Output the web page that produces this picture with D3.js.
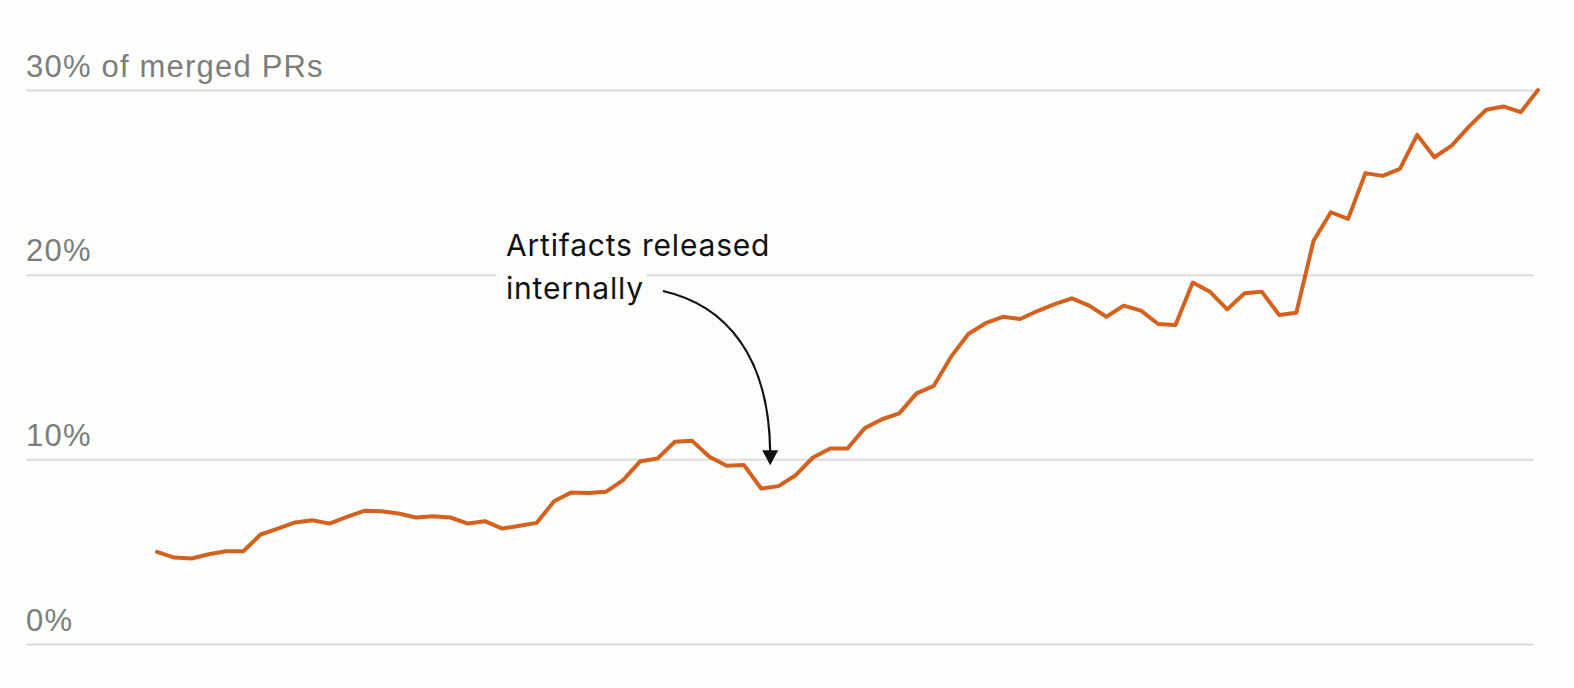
<!DOCTYPE html>
<html>
<head>
<meta charset="utf-8">
<script src="https://cdn.jsdelivr.net/npm/d3@7"></script>
<style>
  html, body { margin: 0; padding: 0; background: #fdfdfc; }
  svg { display: block; }
</style>
</head>
<body>
<div id="chart"></div>
<script>
// share of merged PRs (%), one value per period
const shareValues = [
  4.99, 4.68, 4.63, 4.86, 5.02, 5.02, 5.93, 6.25, 6.58, 6.70,
  6.52, 6.88, 7.21, 7.19, 7.07, 6.85, 6.92, 6.85, 6.52, 6.65,
  6.25, 6.40, 6.56, 7.73, 8.21, 8.18, 8.24, 8.87, 9.90, 10.05,
  10.95, 11.00, 10.14, 9.65, 9.69, 8.42, 8.55, 9.14, 10.10, 10.59,
  10.59, 11.69, 12.17, 12.49, 13.57, 13.98, 15.56, 16.79, 17.37, 17.72,
  17.60, 18.03, 18.40, 18.72, 18.32, 17.72, 18.32, 18.05, 17.33, 17.27,
  19.57, 19.07, 18.12, 18.99, 19.08, 17.82, 17.94, 21.84, 23.38, 23.02,
  25.50, 25.35, 25.73, 27.57, 26.36, 26.99, 28.02, 28.93, 29.11, 28.80,
  30.0
];

// y axis ticks and their labels
const tickValues = [0, 10, 20, 30];
const tickLabels = ['0%', '10%', '20%', '30% of merged PRs'];

// annotation text lines
const noteLines = ['Artifacts released', 'internally'];
// index of the period the arrow points at
const noteIndex = 35;

let width = 1574,
  height = 688;

let svg = d3.select('#chart')
  .append('svg')
  .attr('width', width)
  .attr('height', height)
  .style('background-color', '#fdfdfc');

// scales
let xScale = d3.scaleLinear()
  .domain([0, shareValues.length - 1])
  .range([157, 1538]);

let yScale = d3.scaleLinear()
  .domain([0, 30])
  .range([644, 90]);

// gridlines + tick labels via a right axis stretched across the chart
let gridLeft = 26,
  gridRight = 1534;

let yAxis = d3.axisRight(yScale)
  .tickValues(tickValues)
  .tickSize(gridRight - gridLeft)
  .tickFormat((d, i) => tickLabels[i]);

let axisGroup = svg.append('g')
  .attr('transform', `translate(${gridLeft}, 0)`)
  .call(yAxis);

axisGroup.select('.domain').remove();
axisGroup.selectAll('.tick line')
  .attr('stroke', '#dcdcdb')
  .attr('stroke-width', 2);
axisGroup.selectAll('.tick text')
  .attr('x', 0)
  .attr('y', -14)
  .attr('dy', 0)
  .attr('text-anchor', 'start')
  .attr('fill', '#7b7e7b')
  .style('font-family', '"Liberation Sans", Arial, sans-serif')
  .style('font-size', '31px')
  .style('letter-spacing', '1.2px');

// the line itself
let line = d3.line()
  .x((d, i) => xScale(i))
  .y(d => yScale(d));

svg.append('path')
  .datum(shareValues)
  .attr('fill', 'none')
  .attr('stroke', '#d4611e')
  .attr('stroke-width', 4)
  .attr('stroke-linejoin', 'round')
  .attr('stroke-linecap', 'round')
  .attr('d', line);

// annotation: text on white boxes, curved arrow down to the dip
let noteX = 506,
  noteY = 256,
  noteStep = 43;

let noteGroup = svg.append('g');

noteLines.forEach((t, i) => {
  let box = noteGroup.append('rect')
    .attr('fill', '#fdfdfc');
  let txt = noteGroup.append('text')
    .attr('x', noteX)
    .attr('y', noteY + i * noteStep)
    .attr('fill', '#111')
    .style('font-family', 'Inter, "Noto Sans", sans-serif')
    .style('font-size', '30px')
    .style('letter-spacing', '0.8px')
    .text(t);
  let w = txt.node().getComputedTextLength();
  box.attr('x', noteX - 10)
    .attr('y', noteY + i * noteStep - 30)
    .attr('width', w + 13)
    .attr('height', noteStep);
  txt.raise();
});

// arrow end point sits just above the dip
let tipX = xScale(noteIndex) + 9,
  tipY = yScale(10) + 6;

svg.append('path')
  .attr('fill', 'none')
  .attr('stroke', '#111')
  .attr('stroke-width', 2.2)
  .attr('d', `M663,291 C725,305 ${tipX - 1},355 ${tipX},${tipY - 13}`);

svg.append('path')
  .attr('fill', '#111')
  .attr('d', `M${tipX - 8},${tipY - 15} L${tipX + 8},${tipY - 15} L${tipX},${tipY} Z`);
</script>
</body>
</html>
